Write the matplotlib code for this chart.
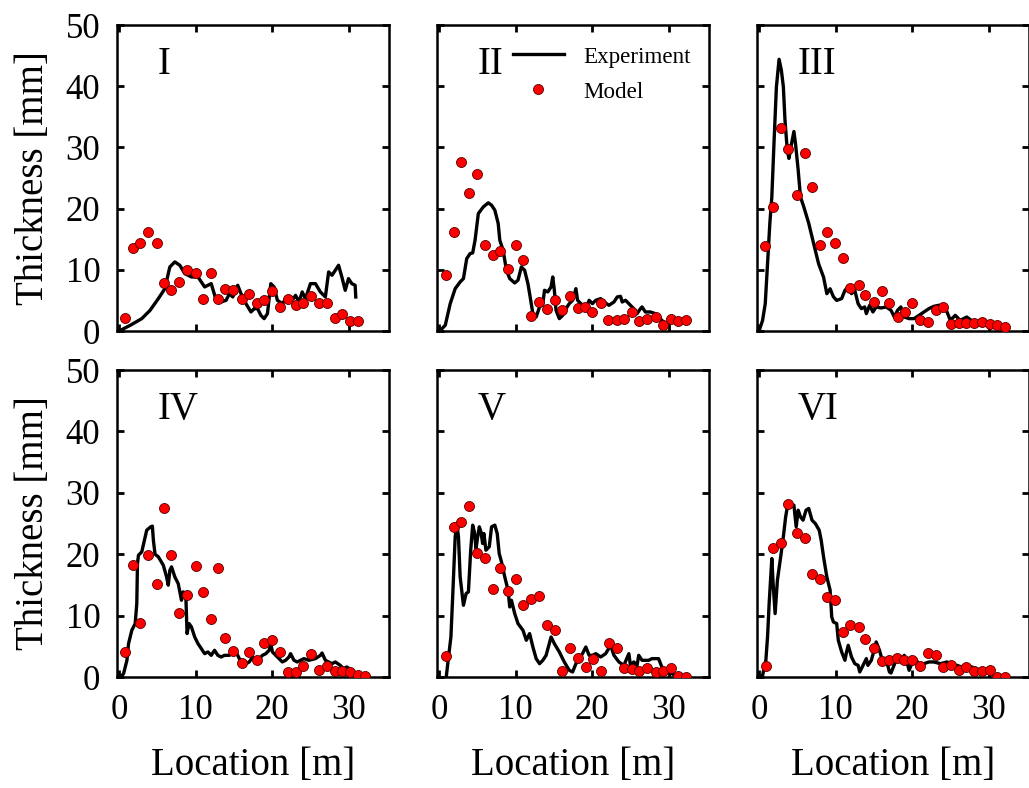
import matplotlib
matplotlib.use("Agg")
import matplotlib.pyplot as plt

plt.rcParams['font.family'] = ['Liberation Serif', 'DejaVu Serif']
plt.rcParams['mathtext.fontset'] = 'stix'

panel_names = ["I", "II", "III", "IV", "V", "VI"]
x_ticks = [0, 10, 20, 30]
y_ticks = [0, 10, 20, 30, 40, 50]

# ---------------- Panel I ----------------
exp1_x = [0.13, 1.43, 2.94, 4.03, 5.11, 5.97, 6.41, 6.62, 7.27, 7.92, 8.57, 9.44, 10.30, 11.17,
          12.03, 12.68, 13.33, 13.98, 14.42, 14.85, 15.50, 15.93, 16.58, 17.23, 17.66, 18.10,
          18.53, 18.96, 19.39, 19.83, 20.26, 20.69, 21.34, 21.99, 22.64, 23.07, 23.51, 23.94,
          24.37, 25.02, 25.67, 26.32, 26.97, 27.40, 27.84, 28.27, 28.70, 29.13, 29.57, 30.00,
          30.43, 30.87, 30.95]
exp1_y = [0.1, 0.93, 2.02, 3.38, 5.29, 6.92, 9.38, 10.47, 11.29, 10.74, 9.38, 8.83, 8.83, 7.20,
          7.74, 5.02, 4.74, 5.02, 6.11, 5.56, 7.47, 6.11, 4.47, 3.11, 3.65, 3.65,
          2.56, 2.02, 2.84, 7.74, 7.20, 5.02, 4.47, 5.56, 5.02, 5.83, 4.74, 6.38,
          5.29, 7.74, 7.74, 6.38, 5.56, 9.65, 9.11, 9.92, 10.74, 8.83, 6.65, 8.56,
          7.74, 7.47, 5.56]
mod1_x = [0.7, 1.8, 2.7, 3.8, 4.9, 5.8, 6.8, 7.8, 8.9, 10.0, 11.0, 12.0, 12.9, 13.9, 14.9, 16.0,
          17.0, 18.0, 19.0, 20.0, 21.0, 22.1, 23.1, 24.1, 25.1, 26.1, 27.2, 28.2, 29.2, 30.2, 31.2]
mod1_y = [2.1, 13.5, 14.4, 16.2, 14.3, 7.9, 6.7, 8.0, 10.0, 9.5, 5.3, 9.5, 5.2, 6.9, 6.7, 5.2,
          6.1, 4.6, 5.0, 6.5, 4.0, 5.3, 4.3, 4.6, 5.7, 4.6, 4.5, 2.1, 2.7, 1.6, 1.7]

# ---------------- Panel II ----------------
exp2_x = [0.13, 0.78, 1.43, 2.08, 2.73, 3.16, 3.59, 4.03, 4.37, 4.68, 5.11, 5.76, 6.41, 6.84,
          7.27, 7.71, 7.92, 8.35, 8.79, 9.22, 9.87, 10.30, 10.74, 11.17, 11.60, 11.82, 12.25,
          12.68, 13.12, 13.55, 13.77, 14.20, 14.63, 14.85, 15.06, 15.28, 15.71, 16.15, 16.58,
          17.01, 17.45, 17.88, 18.10, 18.53, 19.18, 19.61, 20.04, 20.48, 21.13, 21.56, 22.21,
          22.86, 23.29, 23.72, 23.94, 24.37, 24.81, 25.45, 25.89, 26.32, 26.54, 26.97, 27.62,
          28.27, 28.92, 29.35, 30.00]
exp2_y = [0.11, 0.93, 4.47, 6.92, 8.02, 8.56, 11.83, 12.65, 12.76, 14.83, 19.19, 20.28, 20.94, 20.56,
          19.74, 17.56, 14.83, 13.20, 9.92, 8.56, 7.85, 8.29, 10.47, 9.92, 7.74, 6.11, 2.84,
          2.29, 3.93, 4.47, 6.65, 6.38, 7.20, 8.83, 6.65, 3.38, 2.02, 2.56, 3.65,
          4.47, 5.02, 6.92, 5.02, 4.47, 3.65, 5.02, 4.47, 5.02, 5.29, 4.74, 4.20,
          4.74, 5.56, 5.67, 4.74, 5.02, 4.47, 3.65, 2.84, 3.65, 3.93, 3.11, 3.11,
          2.84, 2.02, 1.47, 1.20]
mod2_x = [0.9, 1.9, 2.9, 3.9, 5.0, 6.0, 7.0, 7.9, 9.0, 10.0, 11.0, 12.0, 13.0, 14.1, 15.1, 16.1,
          17.1, 18.1, 19.1, 20.0, 21.1, 22.1, 23.2, 24.2, 25.2, 26.2, 27.2, 28.3, 29.3, 30.3,
          31.3, 32.3]
mod2_y = [9.2, 16.1, 27.6, 22.6, 25.6, 14.0, 12.5, 13.0, 10.1, 14.0, 11.6, 2.4, 4.7, 3.65, 5.0, 3.5,
          5.7, 3.8, 3.9, 3.05, 4.5, 1.75, 1.75, 1.9, 3.05, 1.6, 1.9, 2.3, 0.9, 2.0, 1.6, 1.75]

# ---------------- Panel III ----------------
exp3_x = [0.0, 0.43, 0.78, 1.08, 1.38, 1.64, 1.94, 2.24, 2.59, 2.89, 3.15, 3.36, 3.66, 3.88, 4.22,
          4.53, 4.74, 5.09, 5.39, 5.82, 6.47, 7.11, 7.76, 8.41, 8.84, 9.27, 9.70, 10.13, 10.78,
          11.21, 11.64, 12.07, 12.5, 12.93, 13.36, 13.79, 14.01, 14.44, 14.87, 15.3, 15.95,
          16.59, 17.24, 17.67, 18.10, 18.53, 18.97, 19.61, 20.26, 20.91, 21.55, 22.2, 22.84,
          23.49, 24.14, 24.57, 25.0, 25.65, 26.29, 27.16, 28.02, 28.88, 29.74, 30.6]
exp3_y = [0.11, 1.74, 4.47, 11.0, 17.6, 21.9, 31.2, 39.9, 44.4, 42.6, 39.9, 34.5, 29.6, 28.2, 30.6,
          32.6, 30.6, 26.3, 21.9, 20.3, 17.6, 14.3, 11.0, 8.8, 6.1, 6.9, 5.6, 5.0, 5.3,
          6.65, 7.2, 6.1, 6.65, 4.47, 3.65, 3.93, 2.84, 4.2, 3.11, 3.93, 3.76,
          3.93, 3.38, 2.29, 3.38, 3.93, 2.29, 2.02, 2.02, 2.56, 3.11, 3.65, 4.03,
          4.2, 4.2, 3.11, 1.74, 2.56, 1.74, 2.29, 1.47, 0.93, 0.93, 0.65]
mod3_x = [0.8, 1.8, 2.8, 3.8, 5.0, 6.0, 6.9, 7.9, 8.9, 9.9, 11.0, 11.9, 13.0, 13.9, 15.0, 16.0,
          17.0, 18.1, 19.1, 20.0, 21.0, 22.1, 23.1, 24.1, 25.1, 26.1, 27.1, 28.1, 29.1, 30.2,
          31.1, 32.1]
mod3_y = [13.85, 20.2, 33.1, 29.8, 22.3, 29.1, 23.6, 14.0, 16.1, 14.3, 12.0, 7.1, 7.5, 5.9, 4.7, 6.5,
          4.6, 2.3, 3.1, 4.6, 1.85, 1.5, 3.5, 3.9, 1.2, 1.35, 1.35, 1.35, 1.5, 1.2, 1.05, 0.65]

# ---------------- Panel IV ----------------
exp4_x = [0.13, 0.56, 1.0, 1.21, 1.64, 2.08, 2.29, 2.38, 2.51, 2.94, 3.29, 3.59, 4.11, 4.33, 4.46,
          4.68, 5.11, 5.76, 6.19, 6.41, 6.62, 6.84, 7.27, 7.71, 8.14, 8.35, 8.70, 8.87, 9.13,
          9.44, 9.87, 10.30, 10.74, 11.17, 11.60, 12.03, 12.47, 12.90, 13.33, 13.77, 14.42,
          14.85, 15.28, 15.71, 16.15, 16.58, 17.01, 17.45, 17.88, 18.31, 18.74, 19.18, 19.61,
          19.83, 20.04, 20.48, 20.91, 21.34, 21.77, 22.21, 22.42, 22.86, 23.29, 23.72, 24.16,
          24.81, 25.67, 26.32, 26.54, 26.97, 27.40, 27.84, 28.27, 28.92, 29.35, 29.78, 30.43,
          31.08, 31.73, 32.38]
exp4_y = [0.0, 0.54, 2.72, 5.43, 7.61, 8.70, 11.96, 18.48, 19.84, 20.38, 22.28, 23.91, 24.46, 24.57, 22.28,
          20.0, 19.57, 18.21, 16.30, 14.95, 17.39, 17.93, 16.30, 15.22, 12.5, 13.86, 13.59, 7.07, 8.70,
          8.15, 6.52, 5.43, 4.62, 3.80, 4.08, 3.53, 4.35, 3.53, 3.26, 3.53, 3.53,
          4.35, 4.08, 2.99, 2.45, 2.17, 2.45, 3.26, 2.45, 2.99, 3.53, 3.80, 4.35,
          5.43, 4.08, 3.53, 2.99, 2.45, 2.72, 3.26, 3.80, 2.72, 2.45, 2.72, 2.99,
          2.72, 2.99, 3.53, 3.91, 2.72, 2.45, 2.17, 2.45, 1.90, 1.36, 1.63, 1.09,
          0.54, 0.27, 0.11]
mod4_x = [0.7, 1.8, 2.7, 3.8, 4.9, 5.8, 6.8, 7.8, 8.9, 10.0, 11.0, 12.0, 12.9, 13.9, 14.9, 16.0,
          17.0, 18.0, 19.0, 20.0, 21.0, 22.1, 23.1, 24.1, 25.1, 26.1, 27.2, 28.2, 29.2, 30.2,
          31.2, 32.2]
mod4_y = [4.1, 18.2, 8.8, 19.8, 15.2, 27.6, 19.8, 10.5, 13.3, 18.0, 13.9, 9.4, 17.8, 6.4, 4.2, 2.2,
          4.0, 2.7, 5.5, 6.1, 4.0, 0.8, 0.8, 1.8, 3.8, 1.2, 1.8, 1.0, 1.0, 0.8, 0.4, 0.1]

# ---------------- Panel V ----------------
exp5_x = [0.91, 1.21, 1.52, 1.77, 2.08, 2.29, 2.51, 2.73, 3.16, 3.51, 3.81, 4.11, 4.37, 4.59, 4.81,
          5.02, 5.24, 5.45, 5.67, 5.84, 6.10, 6.54, 6.84, 7.27, 7.58, 7.84, 8.14, 8.57, 9.0,
          9.22, 9.44, 9.87, 10.30, 10.95, 11.39, 11.82, 12.25, 12.68, 13.12, 13.55, 13.98,
          14.63, 15.06, 15.71, 16.36, 17.01, 17.45, 17.88, 18.31, 18.74, 19.18, 19.61, 20.04,
          20.48, 21.13, 21.77, 22.42, 22.86, 23.51, 24.16, 24.81, 25.02, 25.45, 25.89, 26.10,
          26.54, 26.97, 27.40, 27.84, 28.70, 29.13, 29.78, 30.43, 31.08, 31.73, 32.38]
exp5_y = [0.0, 3.26, 6.52, 13.59, 22.83, 25.0, 22.83, 16.30, 11.68, 13.59, 13.86, 20.65, 24.73, 23.64, 20.92,
          22.83, 24.46, 23.64, 21.74, 23.37, 20.65, 21.20, 24.46, 24.73, 23.37, 20.11, 18.75, 16.30, 14.13,
          11.41, 12.5, 10.33, 8.70, 7.61, 5.98, 7.07, 4.89, 2.99, 2.17, 2.72, 3.53,
          6.52, 5.43, 4.08, 2.45, 1.09, 0.82, 2.17, 2.99, 3.80, 4.89, 3.53, 3.53,
          3.80, 3.26, 3.80, 5.16, 3.53, 2.45, 1.90, 3.80, 1.90, 2.45, 1.90, 3.53,
          2.72, 2.72, 2.72, 2.99, 2.99, 1.63, 0.82, 0.54, 0.11, 0.0, 0.0]
mod5_x = [0.9, 1.9, 2.9, 3.9, 4.9, 6.0, 7.0, 7.9, 9.0, 10.0, 11.0, 12.0, 13.0, 14.1, 15.1, 16.1,
          17.1, 18.2, 19.2, 20.1, 21.2, 22.2, 23.2, 24.2, 25.2, 26.2, 27.2, 28.3, 29.3, 30.3,
          31.3, 32.3]
mod5_y = [3.5, 24.5, 25.2, 27.9, 20.2, 19.4, 14.4, 17.8, 14.0, 15.9, 11.8, 12.7, 13.2, 8.5, 7.6, 1.0,
          4.8, 3.1, 1.7, 2.9, 1.0, 5.6, 4.8, 1.4, 1.25, 1.0, 1.4, 0.8, 1.0, 1.4, 0.1, 0.0]

# ---------------- Panel VI ----------------
exp6_x = [0.0, 0.43, 0.86, 1.08, 1.29, 1.64, 1.81, 2.07, 2.37, 2.80, 3.15, 3.45, 3.79, 4.09, 4.53,
          4.83, 5.09, 5.39, 5.73, 6.12, 6.47, 6.90, 7.33, 7.84, 8.10, 8.41, 8.84, 9.27, 9.48,
          9.70, 10.13, 10.34, 10.78, 11.21, 11.42, 11.64, 12.07, 12.5, 12.93, 13.15, 13.58,
          14.01, 14.22, 14.66, 15.09, 15.30, 15.73, 16.16, 16.59, 17.03, 17.24, 17.89, 18.53,
          18.97, 19.31, 19.61, 20.04, 20.47, 20.91, 21.55, 22.2, 22.84, 23.71, 24.57, 25.22,
          25.86, 26.51, 27.16, 27.8, 28.45, 28.88, 29.53, 30.17, 30.82, 31.47, 32.11]
exp6_y = [0.0, 0.27, 2.72, 6.52, 11.96, 19.29, 15.22, 10.33, 15.76, 19.57, 22.83, 26.09, 28.53, 27.72, 27.99,
          24.46, 27.17, 26.09, 25.54, 27.17, 27.45, 25.54, 25.0, 23.91, 22.28, 19.57, 16.30, 14.13, 9.78,
          8.97, 8.70, 5.98, 4.08, 2.72, 4.08, 5.16, 3.26, 2.17, 1.90, 0.82, 1.90,
          2.99, 1.90, 2.72, 4.62, 5.71, 4.35, 2.45, 2.99, 0.82, 0.65, 2.72, 2.45,
          3.53, 2.45, 1.09, 2.45, 2.99, 1.90, 2.17, 2.45, 2.45, 2.17, 2.45, 1.90,
          1.90, 1.63, 1.90, 1.63, 1.36, 1.09, 0.82, 0.82, 0.27, 0.27, 0.0]
mod6_x = [0.9, 1.8, 2.9, 3.8, 4.9, 6.0, 6.9, 7.9, 8.9, 9.9, 11.0, 11.9, 13.0, 13.9, 15.0, 16.0,
          17.0, 18.0, 19.0, 20.0, 21.0, 22.1, 23.1, 24.1, 25.1, 26.1, 27.1, 28.1, 29.2, 30.2,
          31.1, 32.1]
mod6_y = [1.8, 21.0, 21.9, 28.2, 23.5, 22.6, 16.8, 15.9, 13.0, 12.5, 7.4, 8.4, 8.15, 6.25, 4.8, 2.6,
          2.7, 3.15, 2.7, 2.7, 1.8, 3.9, 3.6, 1.6, 2.0, 1.2, 1.6, 1.0, 1.0, 1.2, 0.0, 0.0]

exp_x = [exp1_x, exp2_x, exp3_x, exp4_x, exp5_x, exp6_x]
exp_y = [exp1_y, exp2_y, exp3_y, exp4_y, exp5_y, exp6_y]
mod_x = [mod1_x, mod2_x, mod3_x, mod4_x, mod5_x, mod6_x]
mod_y = [mod1_y, mod2_y, mod3_y, mod4_y, mod5_y, mod6_y]

W, H = 1029, 788
fig = plt.figure(figsize=(W / 100, H / 100), dpi=100)

lefts = [117, 437, 757]
width = 272
rows = [(25, 331), (370, 677)]

for i in range(6):
    r, c = divmod(i, 3)
    top, bot = rows[r]
    ax = fig.add_axes([lefts[c] / W, 1 - bot / H, width / W, (bot - top) / H])
    line, = ax.plot(exp_x[i], exp_y[i], color='black', lw=2.4, label='Experiment', zorder=2)
    pts, = ax.plot(mod_x[i], mod_y[i], 'o', color='#ff0000', mec='#550000', mew=0.6, ms=7.2,
                   label='Model', linestyle='none', zorder=3)
    ax.set_xlim(-0.3, 35.3)
    ax.set_ylim(0, 50)
    ax.set_xticks(x_ticks)
    ax.set_yticks(y_ticks)
    ax.tick_params(direction='in', top=True, right=True, length=5, width=2,
                   labelsize=25)
    ax.tick_params(axis='y', pad=12)
    ax.tick_params(axis='x', pad=12)
    for s in ax.spines.values():
        s.set_linewidth(1.8)
    if c != 0:
        ax.set_yticklabels([])
    else:
        ax.set_ylabel('Thickness [mm]', fontsize=28, labelpad=10)
    if r == 0:
        ax.set_xticklabels([])
    else:
        ax.set_xlabel('Location [m]', fontsize=28, labelpad=15)
    ax.text(0.15, 0.84, panel_names[i], transform=ax.transAxes, fontsize=28,
            ha='left', va='baseline')
    if i == 1:
        ax.legend(handles=[line, pts], loc='upper left', bbox_to_anchor=(0.279, 0.93),
                  frameon=False, fontsize=16.6, handlelength=2.2, handletextpad=0.85,
                  labelspacing=0.6, borderpad=0, borderaxespad=0)

fig.savefig('out.png', dpi=100)
